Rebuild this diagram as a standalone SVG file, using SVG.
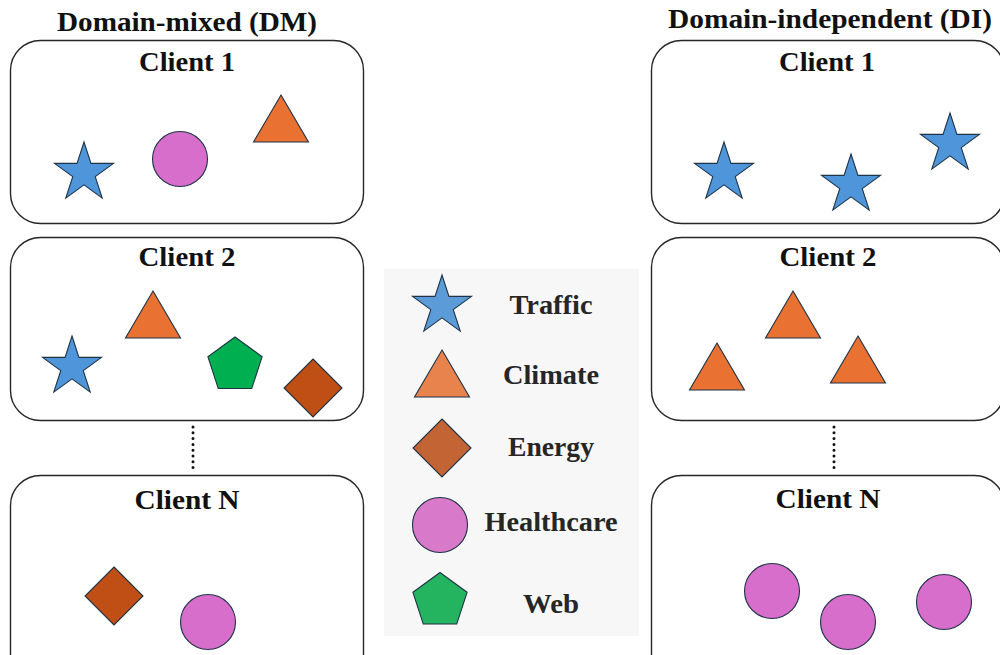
<svg xmlns="http://www.w3.org/2000/svg" xmlns:xlink="http://www.w3.org/1999/xlink" width="1000" height="655" viewBox="0 0 1000 655">
  <style>
    .box { fill: #ffffff; stroke: #262626; stroke-width: 1.4; }
    .shape { stroke: #1e3346; stroke-width: 1.1; stroke-linejoin: miter; }
    .traffic { fill: #4e95d9; }
    .climate { fill: #e97132; }
    .energy { fill: #c04f15; }
    .health { fill: #d86ecc; }
    .web { fill: #00b050; }
    .lg-traffic { fill: #5b9bd8; }
    .lg-climate { fill: #e8834e; }
    .lg-energy { fill: #c26434; }
    .lg-health { fill: #d87ac9; }
    .lg-web { fill: #24b35f; }
    .title { font-family: "Liberation Serif", "DejaVu Serif", serif; font-weight: bold; font-size: 28px; fill: #111111; text-anchor: middle; }
    .label { font-family: "Liberation Serif", "DejaVu Serif", serif; font-weight: bold; font-size: 28px; fill: #111111; text-anchor: middle; }
    .legend-text { font-family: "Liberation Serif", "DejaVu Serif", serif; font-weight: bold; font-size: 27px; fill: #262626; text-anchor: middle; }
    .dots { stroke: #111111; stroke-width: 3; stroke-linecap: round; stroke-dasharray: 0 5.8; fill: none; }
  </style>
  <defs>
    <path id="star" d="M0,-31 L6.96,-9.58 L29.48,-9.58 L11.26,3.66 L18.22,25.08 L0,11.84 L-18.22,25.08 L-11.26,3.66 L-29.48,-9.58 L-6.96,-9.58 Z"/>
    <path id="tri" d="M0,0 L27.5,47 L-27.5,47 Z"/>
    <path id="diamond" d="M0,-29 L29,0 L0,29 L-29,0 Z"/>
    <circle id="dot" cx="0" cy="0" r="27.5"/>
    <path id="penta" d="M0,-28.5 L27.1,-8.81 L16.75,23.06 L-16.75,23.06 L-27.1,-8.81 Z"/>
  </defs>

  <rect width="1000" height="655" fill="#ffffff"/>

  <!-- column headings -->
  <text class="title" x="187" y="31" textLength="260" lengthAdjust="spacingAndGlyphs">Domain-mixed (DM)</text>
  <text class="title" x="830" y="28" textLength="324" lengthAdjust="spacingAndGlyphs">Domain-independent (DI)</text>

  <!-- connectors: dotted links between client 2 and client N -->
  <g id="connectors">
    <line class="dots" x1="193" y1="427" x2="193" y2="470"/>
    <line class="dots" x1="834" y1="427" x2="834" y2="470"/>
  </g>

  <!-- domain-mixed clients -->
  <g id="dm-client-1">
    <rect class="box" x="10.5" y="40.5" width="353" height="183" rx="30"/>
    <text class="label" x="187" y="71" textLength="96" lengthAdjust="spacingAndGlyphs">Client 1</text>
    <use href="#star" class="shape traffic" x="84" y="173"/>
    <use href="#dot" class="shape health" x="180" y="159"/>
    <use href="#tri" class="shape climate" x="281" y="95"/>
  </g>
  <g id="dm-client-2">
    <rect class="box" x="10.5" y="237.5" width="353" height="183" rx="30"/>
    <text class="label" x="187" y="266" textLength="97" lengthAdjust="spacingAndGlyphs">Client 2</text>
    <use href="#star" class="shape traffic" x="72" y="367"/>
    <use href="#tri" class="shape climate" x="153" y="291"/>
    <use href="#penta" class="shape web" x="235" y="365.5"/>
    <use href="#diamond" class="shape energy" x="313" y="388"/>
  </g>
  <g id="dm-client-n">
    <rect class="box" x="10.5" y="475.5" width="353" height="220" rx="30"/>
    <text class="label" x="187" y="509" textLength="105" lengthAdjust="spacingAndGlyphs">Client N</text>
    <use href="#diamond" class="shape energy" x="114" y="596"/>
    <use href="#dot" class="shape health" x="208" y="622"/>
  </g>

  <!-- legend -->
  <g id="legend">
    <rect x="384" y="269" width="255" height="367" fill="#f7f7f7"/>
    <use href="#star" class="shape lg-traffic" x="442" y="306"/>
    <text class="legend-text" x="551" y="314" textLength="83" lengthAdjust="spacingAndGlyphs">Traffic</text>
    <use href="#tri" class="shape lg-climate" x="442" y="350"/>
    <text class="legend-text" x="551" y="384" textLength="96" lengthAdjust="spacingAndGlyphs">Climate</text>
    <use href="#diamond" class="shape lg-energy" x="442" y="448"/>
    <text class="legend-text" x="551" y="456" textLength="86" lengthAdjust="spacingAndGlyphs">Energy</text>
    <use href="#dot" class="shape lg-health" x="440" y="525"/>
    <text class="legend-text" x="551" y="531" textLength="133" lengthAdjust="spacingAndGlyphs">Healthcare</text>
    <use href="#penta" class="shape lg-web" x="440" y="601"/>
    <text class="legend-text" x="551" y="613" textLength="56" lengthAdjust="spacingAndGlyphs">Web</text>
  </g>

  <!-- domain-independent clients -->
  <g id="di-client-1">
    <rect class="box" x="651.5" y="40.5" width="353" height="183" rx="30"/>
    <text class="label" x="827" y="71" textLength="96" lengthAdjust="spacingAndGlyphs">Client 1</text>
    <use href="#star" class="shape traffic" x="724" y="173"/>
    <use href="#star" class="shape traffic" x="851" y="185"/>
    <use href="#star" class="shape traffic" x="950" y="144"/>
  </g>
  <g id="di-client-2">
    <rect class="box" x="651.5" y="237.5" width="353" height="183" rx="30"/>
    <text class="label" x="828" y="266" textLength="97" lengthAdjust="spacingAndGlyphs">Client 2</text>
    <use href="#tri" class="shape climate" x="717" y="343"/>
    <use href="#tri" class="shape climate" x="793" y="291"/>
    <use href="#tri" class="shape climate" x="858" y="336"/>
  </g>
  <g id="di-client-n">
    <rect class="box" x="651.5" y="475.5" width="353" height="220" rx="30"/>
    <text class="label" x="828" y="508" textLength="105" lengthAdjust="spacingAndGlyphs">Client N</text>
    <use href="#dot" class="shape health" x="772" y="591"/>
    <use href="#dot" class="shape health" x="848" y="622"/>
    <use href="#dot" class="shape health" x="944" y="602"/>
  </g>
</svg>
